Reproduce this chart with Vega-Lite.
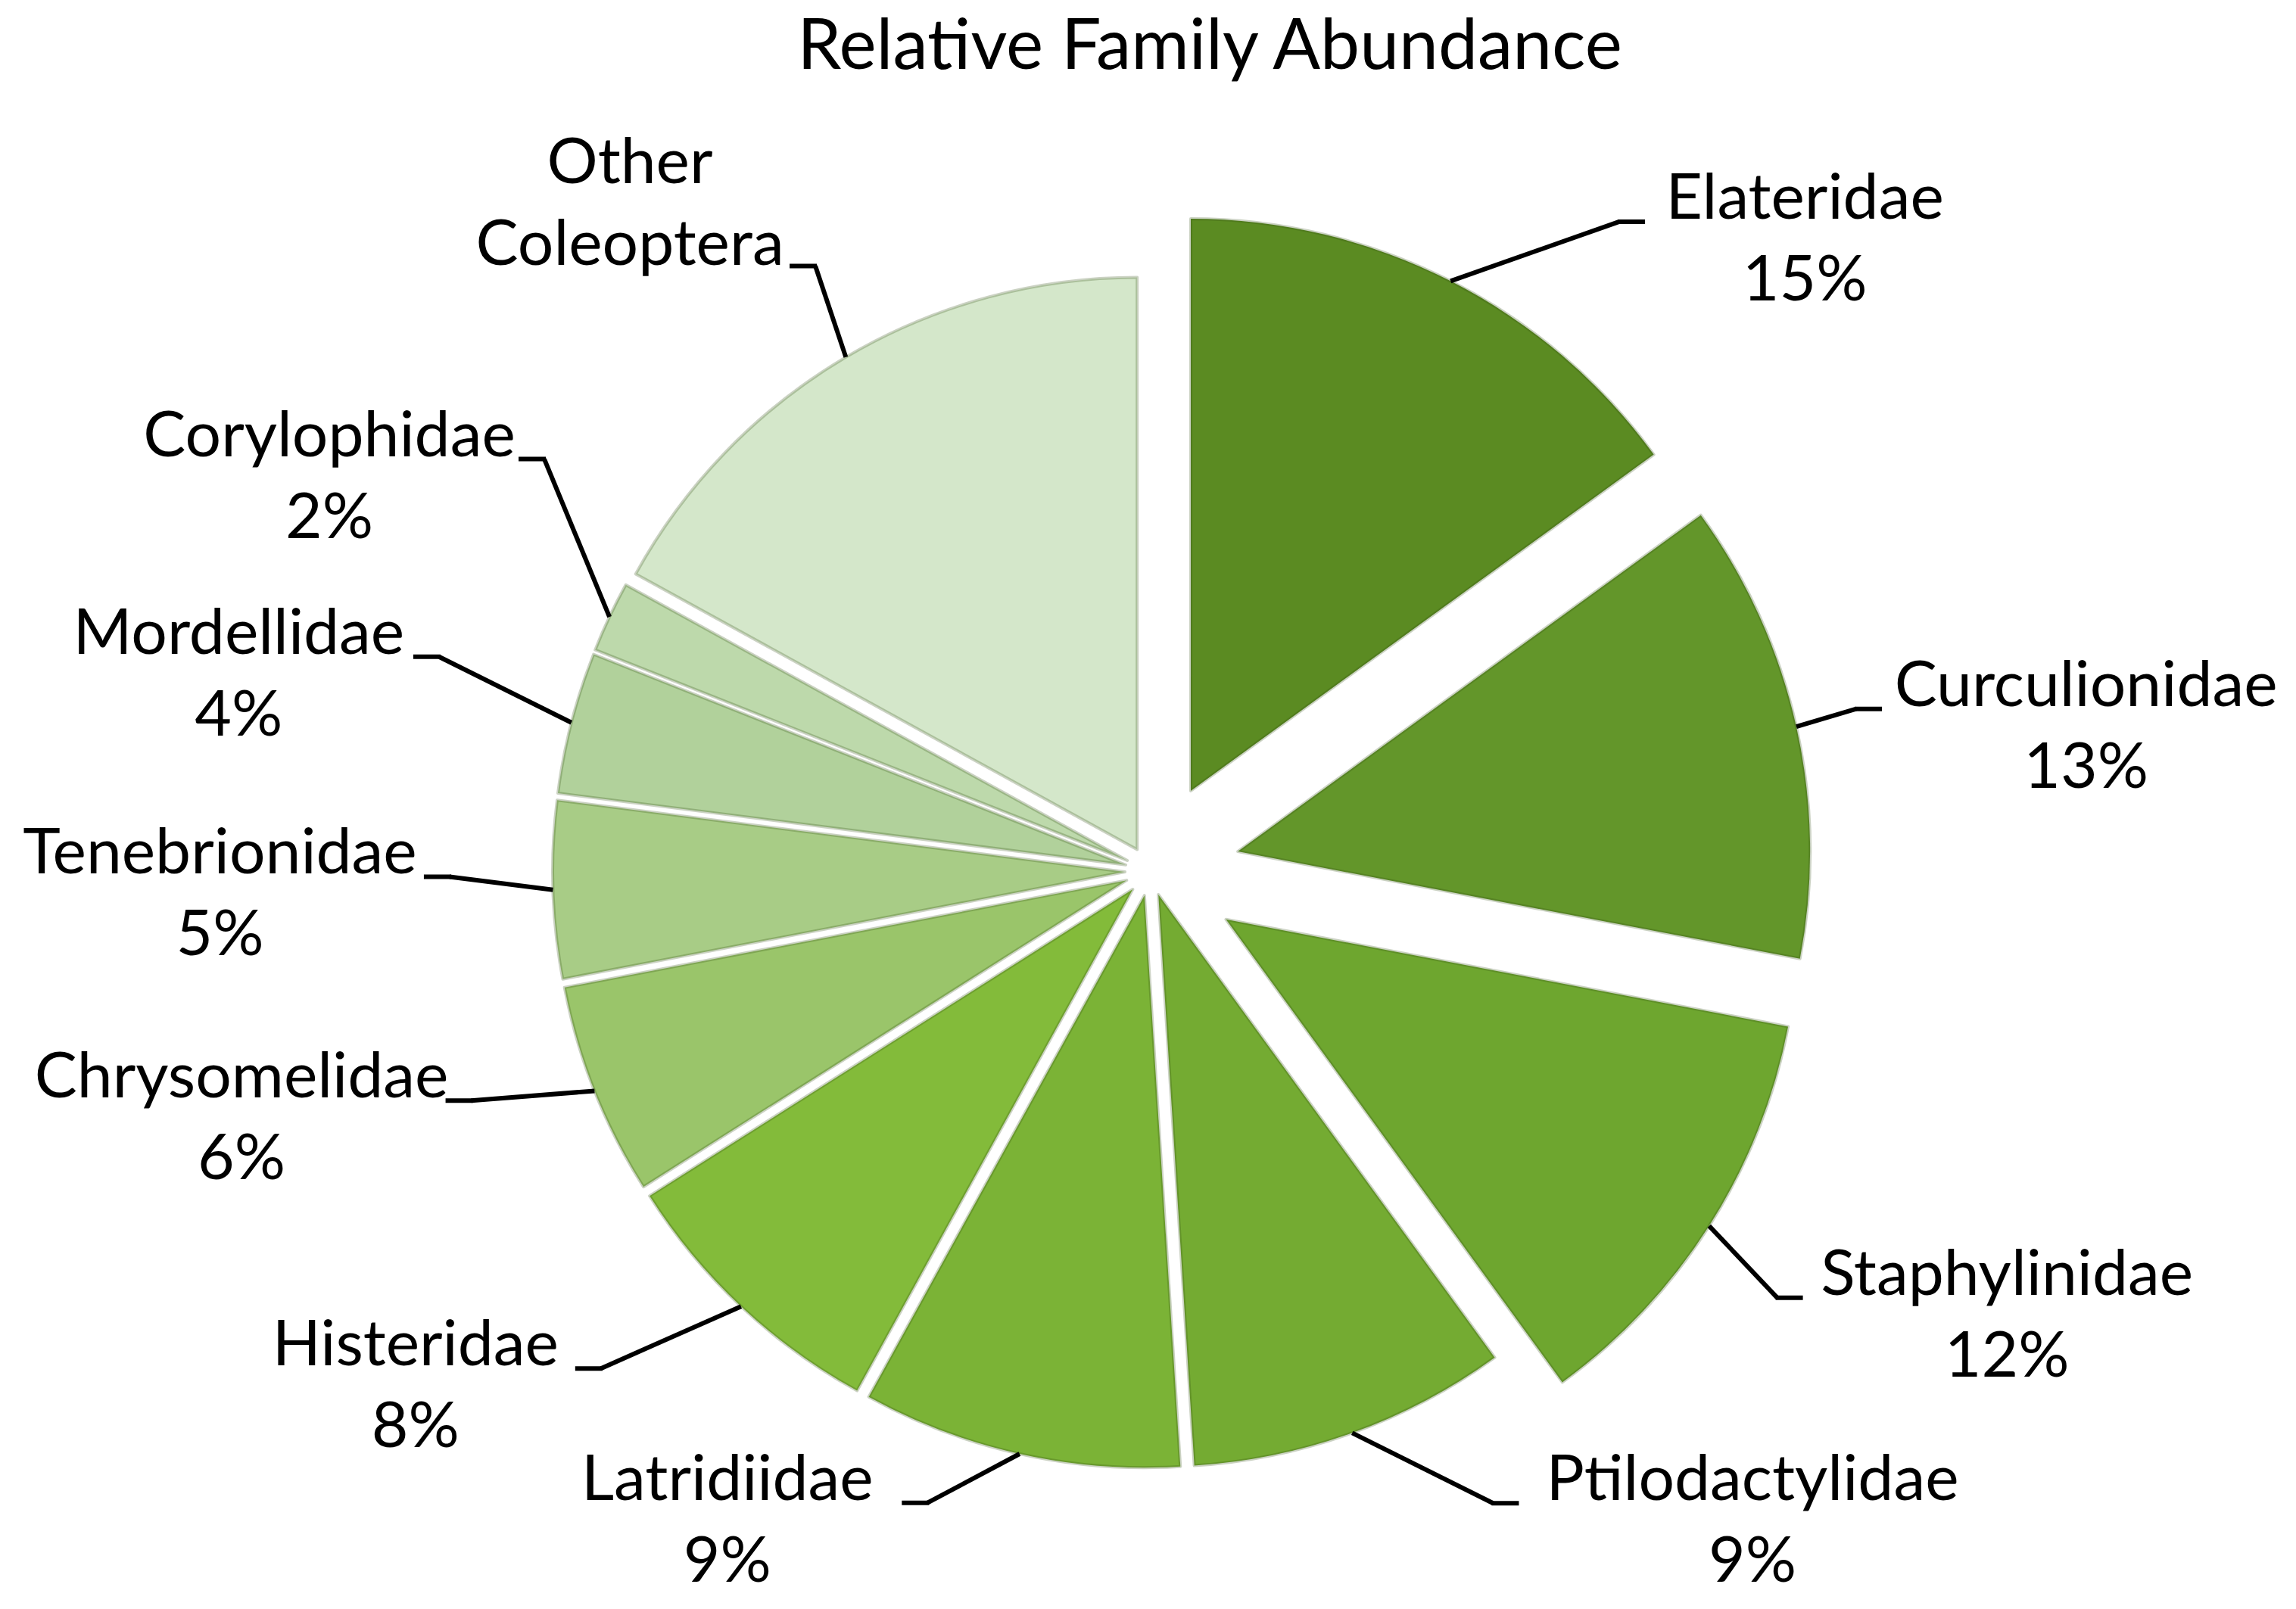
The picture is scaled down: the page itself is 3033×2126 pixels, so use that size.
{
  "$schema": "https://vega.github.io/schema/vega-lite/v6.json",
  "width": 3028,
  "height": 1950,
  "autosize": "none",
  "padding": {"left": 5, "top": 176, "right": 0, "bottom": 0},
  "background": "white",
  "config": {"view": {"stroke": null}},
  "title": {
    "text": "Relative Family Abundance",
    "font": "Lato",
    "fontSize": 93,
    "fontWeight": "normal",
    "color": "black",
    "anchor": "middle",
    "frame": "group",
    "dx": 79,
    "offset": -9,
    "baseline": "alphabetic"
  },
  "data": {
    "values": [
      {"order": 1, "family": "Elateridae", "value": 15},
      {"order": 2, "family": "Curculionidae", "value": 13},
      {"order": 3, "family": "Staphylinidae", "value": 12},
      {"order": 4, "family": "Ptilodactylidae", "value": 9},
      {"order": 5, "family": "Latridiidae", "value": 9},
      {"order": 6, "family": "Histeridae", "value": 8},
      {"order": 7, "family": "Chrysomelidae", "value": 6},
      {"order": 8, "family": "Tenebrionidae", "value": 5},
      {"order": 9, "family": "Mordellidae", "value": 4},
      {"order": 10, "family": "Corylophidae", "value": 2},
      {"order": 11, "family": "Other Coleoptera", "value": 17}
    ]
  },
  "transform": [
    {"joinaggregate": [{"op": "sum", "field": "value", "as": "total"}]},
    {"window": [{"op": "sum", "field": "value", "as": "v1"}], "sort": [{"field": "order", "order": "ascending"}], "frame": [null, 0]},
    {"calculate": "datum.v1 - datum.value", "as": "v0"},
    {"calculate": "PI * (datum.v0 + datum.v1) / datum.total", "as": "mid"},
    {"calculate": "datum.order <= 3 ? 119 : 33", "as": "ex"},
    {"calculate": "{'Elateridae': 0.333, 'Curculionidae': 0.068, 'Staphylinidae': -0.086, 'Ptilodactylidae': -0.401, 'Latridiidae': 0.356, 'Histeridae': 0.204, 'Chrysomelidae': 0.11, 'Tenebrionidae': 0.005, 'Mordellidae': -0.04, 'Corylophidae': 0.007, 'Other Coleoptera': -0.129}[datum.family]", "as": "lda"},
    {"calculate": "{'Elateridae': -14, 'Curculionidae': 36, 'Staphylinidae': 61, 'Ptilodactylidae': -43, 'Latridiidae': -190, 'Histeridae': -29, 'Chrysomelidae': 29, 'Tenebrionidae': 14, 'Mordellidae': 16, 'Corylophidae': -13, 'Other Coleoptera': -99}[datum.family]", "as": "ldr"},
    {"calculate": "datum.mid + datum.lda", "as": "la"},
    {"calculate": "1215 + datum.ldr", "as": "lr"},
    {"calculate": "sin(datum.la) >= 0 ? 1 : -1", "as": "side"},
    {"calculate": "(datum.order == 11 ? 10 : length(datum.family)) * 19.5", "as": "hw"},
    {"calculate": "datum.order == 11 ? 80 : -25", "as": "lyo"},
    {"calculate": "datum.family == 'Other Coleoptera' ? 'Other\\nColeoptera' : datum.family + '\\n' + datum.value + '%'", "as": "label"}
  ],
  "layer": [
    {
      "mark": {
        "type": "arc",
        "outerRadius": 756,
        "innerRadius": 0,
        "stroke": "#2f4a10",
        "strokeOpacity": 0.25,
        "strokeWidth": 4,
        "strokeJoin": "round",
        "x": {"expr": "width / 2 + datum.ex * sin(datum.mid)"},
        "y": {"expr": "height / 2 - datum.ex * cos(datum.mid)"}
      },
      "encoding": {
        "theta": {"field": "v0", "type": "quantitative", "scale": {"domain": [0, 100]}},
        "theta2": {"field": "v1"},
        "color": {
          "field": "family",
          "type": "nominal",
          "legend": null,
          "scale": {
            "domain": ["Elateridae", "Curculionidae", "Staphylinidae", "Ptilodactylidae", "Latridiidae", "Histeridae", "Chrysomelidae", "Tenebrionidae", "Mordellidae", "Corylophidae", "Other Coleoptera"],
            "range": ["#5b8b22", "#63962a", "#6ea62f", "#74ab32", "#7bb336", "#83bb3a", "#9ac56a", "#a8cc86", "#b1d19b", "#bdd9ab", "#d4e7ca"]
          }
        }
      }
    },
    {
      "mark": {"type": "rule", "color": "black", "strokeWidth": 6},
      "encoding": {
        "x": {"value": {"expr": "width / 2 + (datum.ex + 756) * sin(datum.mid)"}},
        "y": {"value": {"expr": "height / 2 - (datum.ex + 756) * cos(datum.mid)"}},
        "x2": {"value": {"expr": "width / 2 + datum.lr * sin(datum.la) - datum.side * (datum.hw + 50)"}},
        "y2": {"value": {"expr": "height / 2 - datum.lr * cos(datum.la) + datum.lyo"}}
      }
    },
    {
      "mark": {"type": "rule", "color": "black", "strokeWidth": 6},
      "encoding": {
        "x": {"value": {"expr": "width / 2 + datum.lr * sin(datum.la) - datum.side * (datum.hw + 52)"}},
        "y": {"value": {"expr": "height / 2 - datum.lr * cos(datum.la) + datum.lyo"}},
        "x2": {"value": {"expr": "width / 2 + datum.lr * sin(datum.la) - datum.side * (datum.hw + 16)"}},
        "y2": {"value": {"expr": "height / 2 - datum.lr * cos(datum.la) + datum.lyo"}}
      }
    },
    {
      "mark": {
        "type": "text",
        "font": "Lato",
        "fontSize": 84,
        "lineHeight": 108,
        "lineBreak": "\n",
        "align": "center",
        "baseline": "middle",
        "dy": -54,
        "color": "black",
        "x": {"expr": "width / 2 + datum.lr * sin(datum.la)"},
        "y": {"expr": "height / 2 - datum.lr * cos(datum.la)"}
      },
      "encoding": {
        "text": {"field": "label", "type": "nominal"}
      }
    }
  ]
}
